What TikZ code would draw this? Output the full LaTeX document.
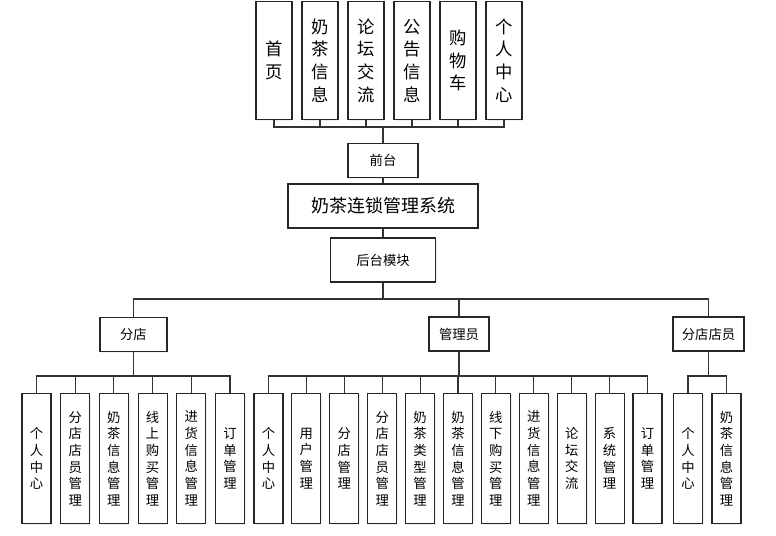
\documentclass[tikz,border=0pt]{standalone}
\usepackage{fontspec}
\setmainfont{Noto Sans CJK SC}
\usetikzlibrary{shadows}
\begin{document}
\begin{tikzpicture}[x=0.75pt,y=-0.75pt,
  box/.style={draw=black!85,line width=0.85pt,fill=white,inner sep=0pt,
    drop shadow={opacity=0.12,shadow xshift=1pt,shadow yshift=-1pt}},
  topbox/.style={box,minimum width=27pt,minimum height=88pt,font=\fontsize{13}{17}\selectfont,align=center},
  label/.style={box,minimum height=25.5pt,font=\fontsize{10}{12}\selectfont},
  leaf/.style={box,minimum width=21.75pt,minimum height=98pt,font=\fontsize{10}{12.5}\selectfont,align=center},
  conn/.style={draw=black!80,line width=0.8pt}]
\useasboundingbox (0,0) rectangle (776,536);
% front-end modules
\node[topbox] (t1) at (274,60.5) {首\\页};
\node[topbox] (t2) at (320,60.5) {奶\\茶\\信\\息};
\node[topbox] (t3) at (366,60.5) {论\\坛\\交\\流};
\node[topbox] (t4) at (412,60.5) {公\\告\\信\\息};
\node[topbox] (t5) at (458,60.5) {购\\物\\车};
\node[topbox] (t6) at (504,60.5) {个\\人\\中\\心};
\coordinate (busT) at (0,127);
\node[label,minimum width=52.5pt] (qt) at (383,160.5) {前台};
\node[box,minimum width=142.5pt,minimum height=33pt,font=\fontsize{13.5}{16}\selectfont] (sys) at (383,206) {奶茶连锁管理系统};
\node[label,minimum width=78.75pt,minimum height=33pt] (ht) at (383,260) {后台模块};
\coordinate (busM) at (0,299);
\node[label,minimum width=50.25pt] (fd) at (133.5,334.5) {分店};
\node[label,minimum width=45pt] (gl) at (459,334) {管理员};
\node[label,minimum width=53.25pt] (dy) at (708.5,334) {分店店员};
\coordinate (busL) at (0,376);
% branch store leaves
\node[leaf] (a1) at (36.5,458.5) {个\\人\\中\\心};
\node[leaf] (a2) at (75.2,458.5) {分\\店\\店\\员\\管\\理};
\node[leaf] (a3) at (113.9,458.5) {奶\\茶\\信\\息\\管\\理};
\node[leaf] (a4) at (152.6,458.5) {线\\上\\购\\买\\管\\理};
\node[leaf] (a5) at (191.3,458.5) {进\\货\\信\\息\\管\\理};
\node[leaf] (a6) at (230,458.5) {订\\单\\管\\理};
% admin leaves
\node[leaf] (b1) at (268.5,458.5) {个\\人\\中\\心};
\node[leaf] (b2) at (306.4,458.5) {用\\户\\管\\理};
\node[leaf] (b3) at (344.3,458.5) {分\\店\\管\\理};
\node[leaf] (b4) at (382.2,458.5) {分\\店\\店\\员\\管\\理};
\node[leaf] (b5) at (420.1,458.5) {奶\\茶\\类\\型\\管\\理};
\node[leaf] (b6) at (458,458.5) {奶\\茶\\信\\息\\管\\理};
\node[leaf] (b7) at (495.9,458.5) {线\\下\\购\\买\\管\\理};
\node[leaf] (b8) at (533.8,458.5) {进\\货\\信\\息\\管\\理};
\node[leaf] (b9) at (571.7,458.5) {论\\坛\\交\\流};
\node[leaf] (b10) at (609.6,458.5) {系\\统\\管\\理};
\node[leaf] (b11) at (647.5,458.5) {订\\单\\管\\理};
% clerk leaves
\node[leaf] (c1) at (688,458.5) {个\\人\\中\\心};
\node[leaf] (c2) at (726.5,458.5) {奶\\茶\\信\\息\\管\\理};
% connectors
\foreach \t in {t1,t2,t3,t4,t5,t6}
  \draw[conn] (qt.north) -- (qt.north |- busT) -| (\t.south);
\draw[conn] (qt.south) -- (sys.north);
\draw[conn] (sys.south) -- (ht.north);
\foreach \m in {fd,gl,dy}
  \draw[conn] (ht.south) -- (ht.south |- busM) -| (\m.north);
\foreach \l in {a1,a2,a3,a4,a5,a6}
  \draw[conn] (fd.south) -- (fd.south |- busL) -| (\l.north);
\foreach \l in {b1,b2,b3,b4,b5,b6,b7,b8,b9,b10,b11}
  \draw[conn] (gl.south) -- (gl.south |- busL) -| (\l.north);
\foreach \l in {c1,c2}
  \draw[conn] (dy.south) -- (dy.south |- busL) -| (\l.north);
\end{tikzpicture}
\end{document}
